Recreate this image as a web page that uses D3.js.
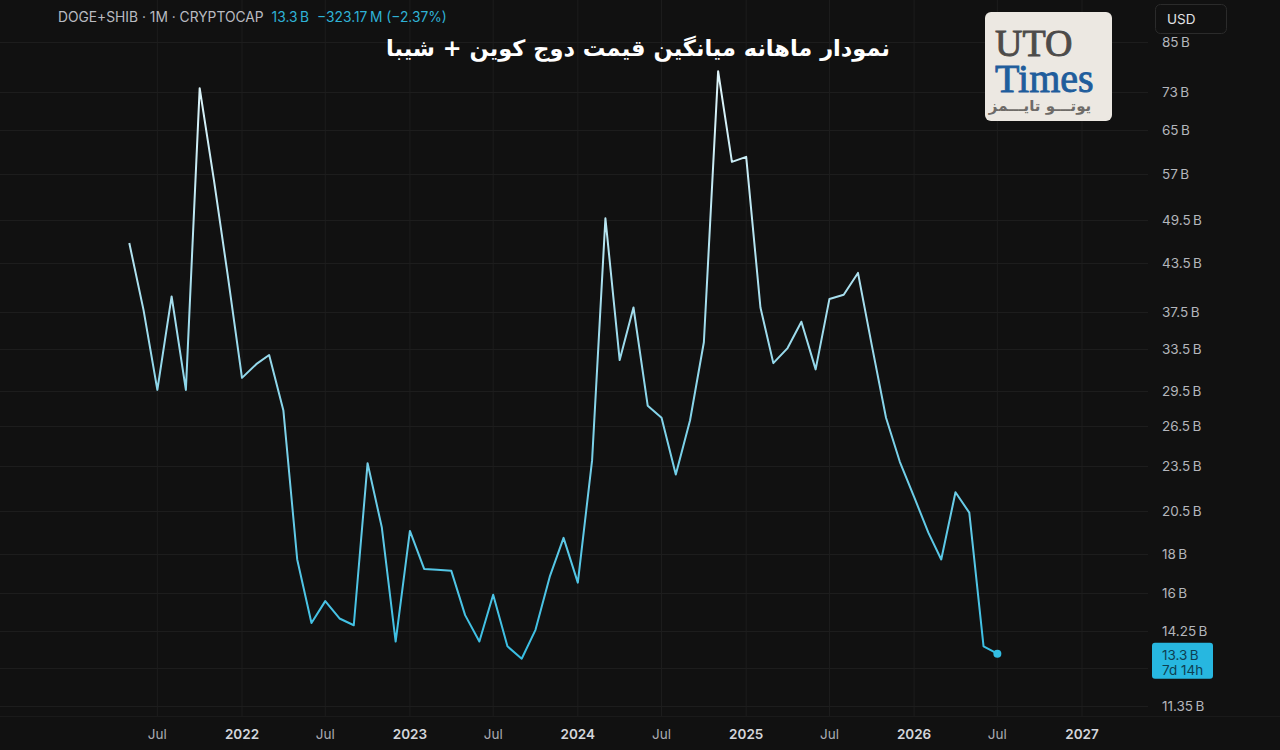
<!DOCTYPE html>
<html>
<head>
<meta charset="utf-8">
<script src="https://cdn.jsdelivr.net/npm/d3@7"></script>
<style>
  html, body { margin: 0; padding: 0; background: #111111; }
  svg { display: block; }
</style>
</head>
<body>
<div id="chart"></div>
<script>
// Monthly average market cap, DOGE+SHIB (billions USD)
const months = [
  '2021-05', '2021-06', '2021-07', '2021-08', '2021-09', '2021-10', '2021-11', '2021-12',
  '2022-01', '2022-02', '2022-03', '2022-04', '2022-05', '2022-06', '2022-07', '2022-08', '2022-09', '2022-10', '2022-11', '2022-12',
  '2023-01', '2023-02', '2023-03', '2023-04', '2023-05', '2023-06', '2023-07', '2023-08', '2023-09', '2023-10', '2023-11', '2023-12',
  '2024-01', '2024-02', '2024-03', '2024-04', '2024-05', '2024-06', '2024-07', '2024-08', '2024-09', '2024-10', '2024-11', '2024-12',
  '2025-01', '2025-02', '2025-03', '2025-04', '2025-05', '2025-06', '2025-07', '2025-08', '2025-09', '2025-10', '2025-11', '2025-12',
  '2026-01', '2026-02', '2026-03', '2026-04', '2026-05', '2026-06', '2026-07',
];
const values = [
  46.2, 37.7, 29.6, 39.3, 29.6, 73.9, 55.9, 41.9,
  30.7, 32.0, 32.9, 27.8, 17.7, 14.6, 15.6, 14.8, 14.5, 23.7, 19.5, 13.8,
  19.3, 17.2, 17.15, 17.1, 14.95, 13.8, 15.9, 13.6, 13.1, 14.3, 16.8, 18.9,
  16.5, 23.9, 49.8, 32.4, 38.0, 28.2, 27.2, 22.9, 27.0, 34.2, 77.8, 59.1,
  60.0, 38.0, 32.1, 33.6, 36.4, 31.5, 39.0, 39.5, 42.2, 33.9, 27.2, 23.8,
  21.4, 19.2, 17.7, 21.7, 20.4, 13.6, 13.3,
];

const yTickValues = [85, 73, 65, 57, 49.5, 43.5, 37.5, 33.5, 29.5, 26.5, 23.5, 20.5, 18, 16, 14.25, 11.35];
const yGridExtra = [12.75];
const xTickDates = [
  '2021-07', '2022-01', '2022-07', '2023-01', '2023-07', '2024-01',
  '2024-07', '2025-01', '2025-07', '2026-01', '2026-07', '2027-01',
];

const headerSymbol = 'DOGE+SHIB · 1M · CRYPTOCAP';
const headerLast = '13.3\u202FB';
const headerChange = '\u2212323.17\u202FM (\u22122.37%)';
const titleText = 'نمودار ماهانه میانگین قیمت دوج کوین + شیبا';
const lastLabel = ['13.3\u202FB', '7d 14h'];

const W = 1280, H = 750;
const plotRight = 1148;
const plotBottom = 716;

const parseMonth = d3.timeParse('%Y-%m');
const rows = months.map((m, i) => ({ date: parseMonth(m), value: values[i] }));

const svg = d3.select('#chart').append('svg')
  .attr('width', W).attr('height', H)
  .style('font-family', 'Inter, "Noto Sans", sans-serif');

svg.append('rect').attr('width', W).attr('height', H).attr('fill', '#111111');

const x = d3.scaleTime()
  .domain([parseMonth('2022-01'), parseMonth('2027-01')])
  .range([242, 1082]);
const y = d3.scaleLog()
  .domain([11.35, 85])
  .range([706, 42]);

// Grid
const grid = svg.append('g');
grid.selectAll('.vgrid')
  .data(xTickDates.map(parseMonth))
  .enter().append('line')
  .attr('x1', (d) => x(d)).attr('x2', (d) => x(d))
  .attr('y1', 0).attr('y2', plotBottom)
  .attr('stroke', '#1d1d1d').attr('stroke-width', 1);
grid.selectAll('.hgrid')
  .data(yTickValues.concat(yGridExtra))
  .enter().append('line')
  .attr('x1', 0).attr('x2', plotRight)
  .attr('y1', (d) => Math.round(y(d)) + 0.5).attr('y2', (d) => Math.round(y(d)) + 0.5)
  .attr('stroke', '#1d1d1d').attr('stroke-width', 1);

svg.append('line')
  .attr('x1', 0).attr('x2', W)
  .attr('y1', plotBottom + 0.5).attr('y2', plotBottom + 0.5)
  .attr('stroke', '#1a1a1a');

// Line gradient (pale at the top, saturated cyan lower down)
const defs = svg.append('defs');
const grad = defs.append('linearGradient')
  .attr('id', 'lineGrad')
  .attr('gradientUnits', 'userSpaceOnUse')
  .attr('x1', 0).attr('x2', 0)
  .attr('y1', 60).attr('y2', 670);
grad.append('stop').attr('offset', '0%').attr('stop-color', '#e3f6fa');
grad.append('stop').attr('offset', '45%').attr('stop-color', '#9ddbec');
grad.append('stop').attr('offset', '100%').attr('stop-color', '#34bde3');

const line = d3.line()
  .x((d) => x(d.date))
  .y((d) => y(d.value));

svg.append('path')
  .datum(rows)
  .attr('d', line)
  .attr('fill', 'none')
  .attr('stroke', 'url(#lineGrad)')
  .attr('stroke-width', 2)
  .attr('stroke-linejoin', 'round');

const last = rows[rows.length - 1];
svg.append('circle')
  .attr('cx', x(last.date)).attr('cy', y(last.value))
  .attr('r', 4)
  .attr('fill', '#33bde3');

// Right axis labels
svg.selectAll('.ytick')
  .data(yTickValues)
  .enter().append('text')
  .attr('x', 1162)
  .attr('y', (d) => y(d))
  .attr('dominant-baseline', 'central')
  .attr('font-size', 13.5)
  .attr('fill', '#b4b6bc')
  .text((d) => `${d}\u202FB`);

// Last value box
const lbY = y(last.value);
svg.append('rect')
  .attr('x', 1152).attr('y', lbY - 11)
  .attr('width', 61).attr('height', 36)
  .attr('rx', 3)
  .attr('fill', '#27b7e0');
svg.append('text')
  .attr('x', 1162).attr('y', lbY + 1)
  .attr('dominant-baseline', 'central')
  .attr('font-size', 13.5)
  .attr('fill', '#0e3f52')
  .text(lastLabel[0]);
svg.append('text')
  .attr('x', 1162).attr('y', lbY + 16)
  .attr('dominant-baseline', 'central')
  .attr('font-size', 13.5)
  .attr('fill', '#0e3f52')
  .text(lastLabel[1]);

// Bottom axis labels
svg.selectAll('.xtick')
  .data(xTickDates.map(parseMonth))
  .enter().append('text')
  .attr('x', (d) => x(d))
  .attr('y', 739)
  .attr('text-anchor', 'middle')
  .attr('font-size', 13.5)
  .attr('font-weight', (d) => d.getMonth() === 0 ? 600 : 400)
  .attr('fill', (d) => d.getMonth() === 0 ? '#d4d6db' : '#a9abb1')
  .text((d) => d.getMonth() === 0 ? d3.timeFormat('%Y')(d) : d3.timeFormat('%b')(d));

// USD box
svg.append('rect')
  .attr('x', 1155.5).attr('y', 4.5)
  .attr('width', 71).attr('height', 29)
  .attr('rx', 5)
  .attr('fill', '#111111')
  .attr('stroke', '#2b2b2b');
svg.append('text')
  .attr('x', 1167).attr('y', 19)
  .attr('dominant-baseline', 'central')
  .attr('font-size', 13.5)
  .attr('fill', '#e2e3e6')
  .text('USD');

// Header legend
const header = svg.append('text')
  .attr('x', 58).attr('y', 22)
  .attr('font-size', 13.8);
header.append('tspan').attr('fill', '#b9bbc1').text(headerSymbol);
header.append('tspan').attr('dx', 8).attr('fill', '#2fb2d6').text(headerLast);
header.append('tspan').attr('dx', 8).attr('fill', '#2fb2d6').text(headerChange);

// Title
svg.append('text')
  .attr('x', 638).attr('y', 56)
  .attr('text-anchor', 'middle')
  .attr('font-family', '"DejaVu Sans", sans-serif')
  .attr('font-weight', 'bold')
  .attr('font-size', 22.5)
  .attr('fill', '#ffffff')
  .text(titleText);

// Logo
const logo = svg.append('g');
logo.append('rect')
  .attr('x', 985).attr('y', 12)
  .attr('width', 127).attr('height', 109)
  .attr('rx', 6)
  .attr('fill', '#ece8e2');
logo.append('text')
  .attr('x', 995).attr('y', 56)
  .attr('font-family', '"Liberation Serif", serif')
  .attr('font-size', 38)
  .attr('fill', '#4d4b4a')
  .attr('stroke', '#4d4b4a')
  .attr('stroke-width', 0.9)
  .text('UTO');
logo.append('text')
  .attr('x', 995).attr('y', 92)
  .attr('font-family', '"Liberation Serif", serif')
  .attr('font-size', 40)
  .attr('fill', '#1f5d9c')
  .attr('stroke', '#1f5d9c')
  .attr('stroke-width', 0.9)
  .text('Times');
logo.append('text')
  .attr('x', 1040).attr('y', 111)
  .attr('text-anchor', 'middle')
  .attr('font-family', '"DejaVu Sans", sans-serif')
  .attr('font-weight', 'bold')
  .attr('font-size', 15)
  .attr('fill', '#6e6b68')
  .text('یوتـــو تایـــمز');
</script>
</body>
</html>
